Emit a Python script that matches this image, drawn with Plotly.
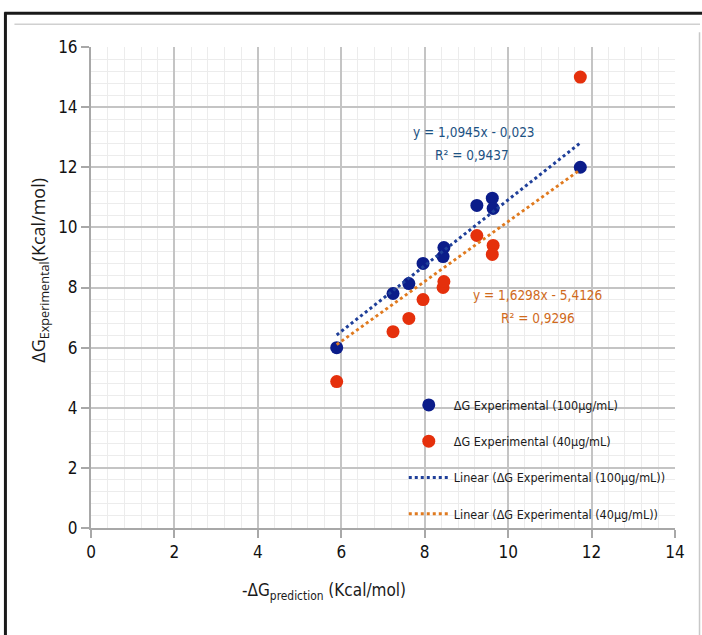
import plotly.graph_objects as go

# ---- data ----
x_pred = [5.89, 7.24, 7.62, 7.96, 8.44, 8.46, 9.25, 9.62, 9.64, 11.73]
y_100 = [6.00, 7.80, 8.13, 8.80, 9.03, 9.33, 10.73, 10.97, 10.63, 12.00]
x_pred_40 = [5.89, 7.24, 7.62, 7.96, 8.44, 8.46, 9.25, 9.64, 9.62, 11.73]
y_40 = [4.87, 6.53, 6.97, 7.60, 8.00, 8.20, 9.73, 9.40, 9.10, 15.00]
trend_x = [5.89, 11.73]
trend_100_y = [6.42, 12.81]
trend_40_y = [6.10, 11.92]
eq_100 = ["y = 1,0945x - 0,023", "R² = 0,9437"]
eq_40 = ["y = 1,6298x - 5,4126", "R² = 0,9296"]
x_ticks = [0, 2, 4, 6, 8, 10, 12, 14]
y_ticks = [0, 2, 4, 6, 8, 10, 12, 14, 16]

BLUE = "#0b1c8a"
RED = "#e5300c"
BLUE_LINE = "#1f3f99"
ORANGE_LINE = "#e07a1f"
BLUE_TXT = "#1c5283"
ORANGE_TXT = "#cf6a1c"
NARROW = "DejaVu Sans Condensed, Liberation Sans Narrow, Lato, sans-serif"

fig = go.Figure()
fig.add_trace(go.Scatter(x=x_pred, y=y_100, mode="markers", name="ΔG Experimental (100µg/mL)",
                         marker=dict(color=BLUE, size=13), legendgroup="a"))
fig.add_trace(go.Scatter(x=x_pred_40, y=y_40, mode="markers", name="ΔG Experimental (40µg/mL)",
                         marker=dict(color=RED, size=13), legendgroup="b"))
fig.add_trace(go.Scatter(x=trend_x, y=trend_100_y, mode="lines", name="Linear (ΔG Experimental (100µg/mL))",
                         line=dict(color=BLUE_LINE, width=3, dash="dot"), legendgroup="c"))
fig.add_trace(go.Scatter(x=trend_x, y=trend_40_y, mode="lines", name="Linear (ΔG Experimental (40µg/mL))",
                         line=dict(color=ORANGE_LINE, width=3, dash="dot"), legendgroup="d"))

ann_pos = [
    (9.17, 13.16, eq_100[0], BLUE_TXT),
    (9.14, 12.40, eq_100[1], BLUE_TXT),
    (10.70, 7.74, eq_40[0], ORANGE_TXT),
    (10.71, 6.98, eq_40[1], ORANGE_TXT),
]
annotations = []
for x, y, t, c in ann_pos:
    annotations.append(dict(x=x, y=y, xref="x", yref="y", text=t, showarrow=False,
                            xanchor="center", yanchor="middle",
                            font=dict(family=NARROW, size=13.5, color=c)))


def px(v):
    return (v - 91.5) / 583.5


def py(v):
    return (527.7 - v) / 481


annotations.append(dict(x=px(324), y=py(591), xref="paper", yref="paper",
                        xanchor="center", yanchor="middle",
                        text="-ΔG<sub>prediction</sub> (Kcal/mol)", showarrow=False,
                        font=dict(family=NARROW, size=17, color="#1a1a1a")))
annotations.append(dict(x=px(40), y=py(270), xref="paper", yref="paper",
                        xanchor="center", yanchor="middle",
                        text="ΔG<sub>Experimental</sub>(Kcal/mol)", showarrow=False, textangle=-90,
                        font=dict(family="Open Sans, sans-serif", size=18, color="#1a1a1a")))

shapes = [
    dict(type="line", xref="paper", yref="paper", x0=px(5), x1=px(702), y0=py(13), y1=py(13),
         line=dict(color="#1a1a1a", width=3)),
    dict(type="line", xref="paper", yref="paper", x0=px(6), x1=px(6), y0=py(12), y1=py(636),
         line=dict(color="#1a1a1a", width=3)),
    dict(type="line", xref="paper", yref="paper", x0=px(15), x1=px(700), y0=py(24), y1=py(24),
         line=dict(color="#d0d0d0", width=1.5)),
    dict(type="line", xref="paper", yref="paper", x0=px(699.5), x1=px(699.5), y0=py(32), y1=py(636),
         line=dict(color="#c8c8c8", width=1.5)),
]

axis_common = dict(
    showgrid=True, gridcolor="#c4c4c4", gridwidth=1.5,
    minor=dict(showgrid=True, gridcolor="#ececec", gridwidth=1, dtick=0.4),
    showline=True, linecolor="#a8a8a8", linewidth=2,
    ticks="outside", ticklen=8, tickcolor="#a8a8a8", tickwidth=2,
    tickfont=dict(family=NARROW, size=17, color="#111"),
    zeroline=False, fixedrange=True,
)

fig.update_layout(
    width=702, height=635,
    margin=dict(l=91, r=27, t=47, b=107, autoexpand=False),
    paper_bgcolor="white", plot_bgcolor="white",
    xaxis=dict(range=[0, 14], tickvals=x_ticks, **axis_common),
    yaxis=dict(range=[0, 16], tickvals=y_ticks, **axis_common),
    legend=dict(x=px(404), y=py(390), xanchor="left", yanchor="top", bgcolor="rgba(0,0,0,0)",
                font=dict(family=NARROW, size=12.5, color="#1a1a1a"), tracegroupgap=17,
                traceorder="grouped", itemwidth=40),
    showlegend=True,
    annotations=annotations,
    shapes=shapes,
)

fig.write_html("out.html", config={"displayModeBar": False},
               post_script="document.body.style.margin='0';")
